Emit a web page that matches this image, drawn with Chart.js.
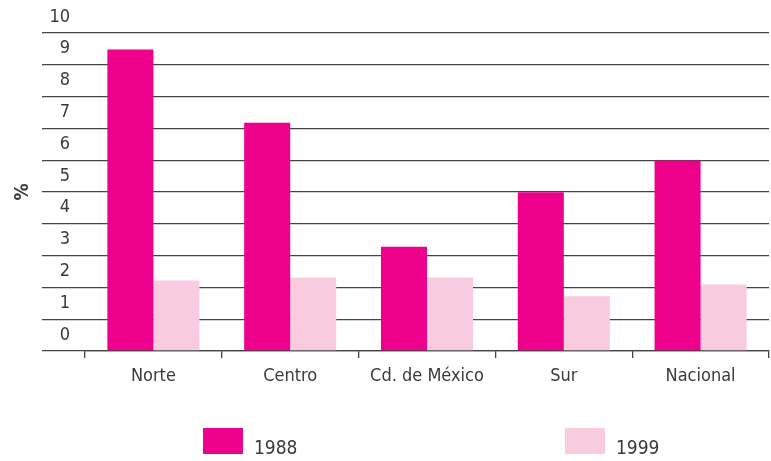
<!DOCTYPE html>
<html lang="es">
<head>
<meta charset="utf-8">
<script src="https://cdn.jsdelivr.net/npm/chart.js@4/dist/chart.umd.min.js"></script>
<style>
  html, body { margin: 0; padding: 0; background: #fff; }
  #contenedor { width: 771px; height: 461px; }
</style>
</head>
<body>
<div id="contenedor"><canvas id="barChart"></canvas></div>
<script>
// Datos de la gráfica
const regiones = ['Norte', 'Centro', 'Cd. de México', 'Sur', 'Nacional'];
const valores1988 = [9.48, 7.18, 3.28, 4.99, 5.99];
const valores1999 = [2.22, 2.31, 2.31, 1.72, 2.09];
const etiquetasSeries = ['1988', '1999'];

const fuente = '"Liberation Sans Narrow", "DejaVu Sans Condensed", "Liberation Sans", sans-serif';
const colorTexto = '#3a3a3a';
const colorLinea = '#444';

// Leyenda dibujada a mano (las cajas van muy separadas en el original)
const leyendaManual = {
    id: 'leyendaManual',
    afterDraw(chart, args, opts) {
        const ctx = chart.ctx;
        ctx.save();
        ctx.font = '19px ' + fuente;
        ctx.textBaseline = 'alphabetic';
        ctx.textAlign = 'left';
        chart.data.datasets.forEach((ds, i) => {
            const x = opts.posiciones[i];
            ctx.fillStyle = ds.backgroundColor;
            ctx.fillRect(x, 428, 40, 26);
            ctx.fillStyle = colorTexto;
            ctx.fillText(ds.label, x + 51, 454);
        });
        ctx.restore();
    }
};

const ctx = document.getElementById('barChart').getContext('2d');
const grafica = new Chart(ctx, {
    type: 'bar',
    data: {
        labels: regiones,
        datasets: [
            {
                label: etiquetasSeries[0],
                data: valores1988,
                backgroundColor: '#ec008c',
                barPercentage: 1,
                categoryPercentage: 0.673
            },
            {
                label: etiquetasSeries[1],
                data: valores1999,
                backgroundColor: '#f8cbdf',
                barPercentage: 1,
                categoryPercentage: 0.673
            }
        ]
    },
    options: {
        responsive: true,
        maintainAspectRatio: false,
        animation: false,
        layout: { padding: { top: 33, left: 8, right: 2, bottom: 60 } },
        plugins: {
            legend: { display: false },
            tooltip: { enabled: false },
            leyendaManual: { posiciones: [203, 565] }
        },
        scales: {
            x: {
                grid: {
                    offset: true,
                    drawOnChartArea: false,
                    drawTicks: true,
                    tickLength: 7,
                    color: colorLinea,
                    lineWidth: 1.3
                },
                border: { display: true, color: colorLinea, width: 1.3 },
                ticks: {
                    color: colorTexto,
                    font: { family: fuente, size: 18 },
                    padding: 8,
                    maxRotation: 0
                },
                afterFit(scale) { scale.height = 50; }
            },
            y: {
                min: 0,
                max: 10,
                ticks: {
                    stepSize: 1,
                    color: colorTexto,
                    font: { family: fuente, size: 18 },
                    labelOffset: -16,
                    padding: -28
                },
                grid: {
                    color: colorLinea,
                    lineWidth: 1.3,
                    drawTicks: true,
                    tickLength: 43
                },
                border: { display: false },
                title: {
                    display: true,
                    text: '%',
                    color: colorTexto,
                    font: { family: fuente, size: 19, weight: 'bold' },
                    padding: { top: 4, bottom: 4 }
                },
                afterFit(scale) { scale.width = 77; }
            }
        }
    },
    plugins: [leyendaManual]
});
</script>
</body>
</html>
